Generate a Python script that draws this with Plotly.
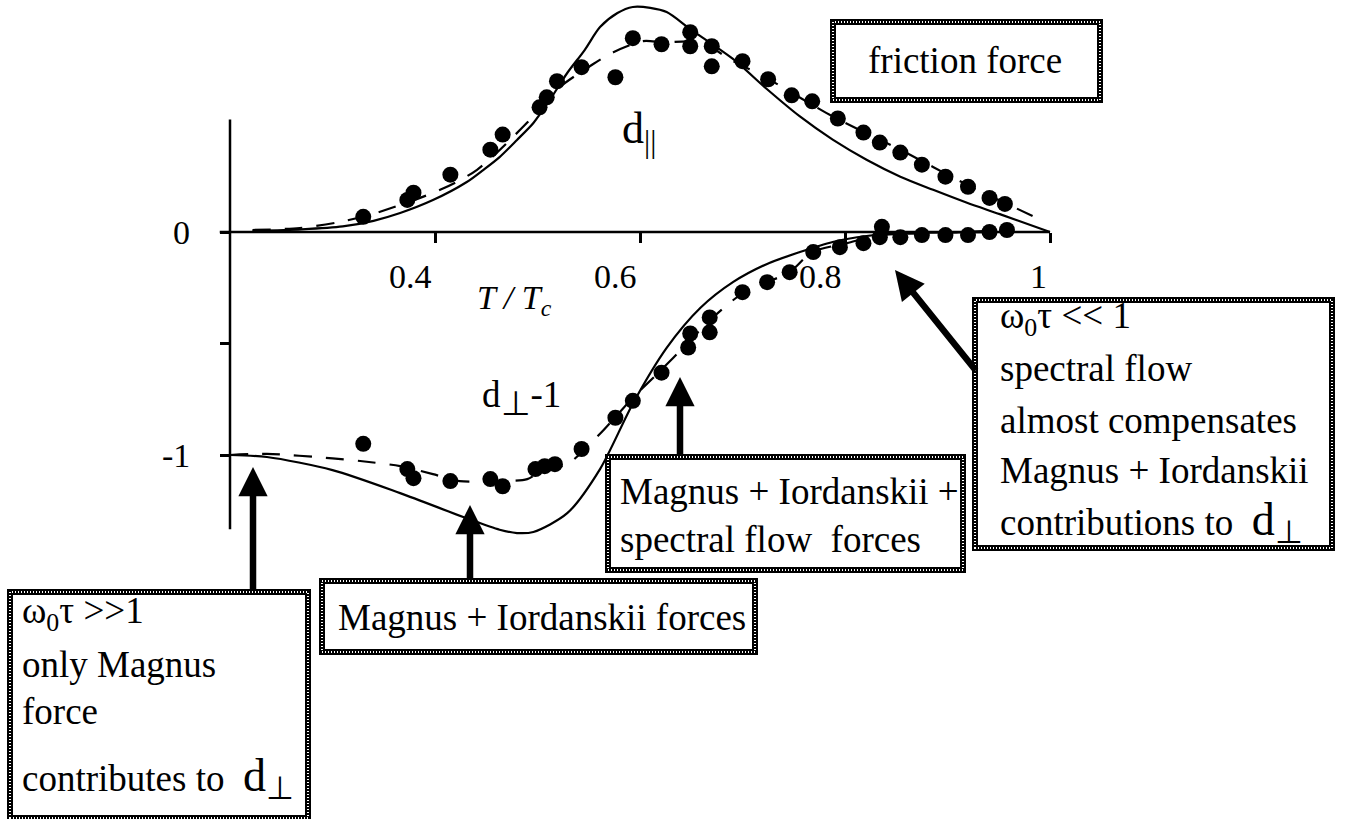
import plotly.graph_objects as go

W, H = 1349, 819

# ---- data ----
# experimental d_parallel
x_par = [0.330, 0.373, 0.379, 0.415, 0.454, 0.466, 0.502, 0.509, 0.519, 0.543,
         0.576, 0.593, 0.621, 0.649, 0.649, 0.670, 0.670, 0.700, 0.725, 0.748,
         0.768, 0.793, 0.818, 0.834, 0.854, 0.875, 0.898, 0.920, 0.941, 0.956]
y_par = [0.068, 0.144, 0.176, 0.257, 0.369, 0.437, 0.559, 0.604, 0.676, 0.739,
         0.694, 0.869, 0.842, 0.896, 0.833, 0.833, 0.743, 0.766, 0.685, 0.613,
         0.586, 0.509, 0.446, 0.401, 0.356, 0.302, 0.248, 0.203, 0.153, 0.126]

# experimental d_perp - 1
x_perp = [0.330, 0.373, 0.379, 0.415, 0.454, 0.466, 0.498, 0.507, 0.517, 0.543,
          0.576, 0.593, 0.621, 0.647, 0.649, 0.668, 0.668, 0.700, 0.724, 0.746,
          0.769, 0.795, 0.818, 0.834, 0.836, 0.854, 0.875, 0.898, 0.920, 0.941, 0.958]
y_perp = [-0.950, -1.063, -1.104, -1.117, -1.108, -1.140, -1.063, -1.050, -1.041, -0.973,
          -0.833, -0.757, -0.631, -0.518, -0.455, -0.450, -0.383, -0.270, -0.225, -0.180,
          -0.090, -0.068, -0.050, -0.023, 0.023, -0.023, -0.014, -0.014, -0.014, 0.000, 0.009]

# theory (solid) d_parallel
x_par_th = [0.222, 0.270, 0.310, 0.340, 0.366, 0.398, 0.431, 0.447, 0.463, 0.480,
            0.496, 0.512, 0.529, 0.546, 0.561, 0.578, 0.593, 0.610, 0.626, 0.649,
            0.691, 0.724, 0.756, 0.788, 0.821, 0.854, 0.886, 0.919, 0.951, 1.000]
y_par_th = [0.005, 0.012, 0.025, 0.050, 0.085, 0.143, 0.224, 0.278, 0.336, 0.413,
            0.489, 0.592, 0.713, 0.816, 0.919, 0.982, 1.009, 1.005, 0.986, 0.910,
            0.775, 0.640, 0.518, 0.414, 0.324, 0.248, 0.189, 0.131, 0.080, 0.000]

# fit (dashed) d_parallel
x_par_fit = [0.222, 0.268, 0.307, 0.343, 0.405, 0.441, 0.490, 0.519, 0.554, 0.574,
             0.603, 0.622, 0.659, 0.691, 0.724, 0.788, 0.854, 0.919, 0.983]
y_par_fit = [0.009, 0.018, 0.045, 0.086, 0.189, 0.279, 0.491, 0.640, 0.752, 0.806,
             0.856, 0.851, 0.850, 0.766, 0.689, 0.518, 0.369, 0.212, 0.072]

# theory (solid) d_perp - 1
x_perp_th = [0.200, 0.236, 0.300, 0.366, 0.431, 0.463, 0.480, 0.496, 0.529, 0.561,
             0.593, 0.626, 0.659, 0.691, 0.724, 0.756, 0.788, 0.821, 0.854, 0.951, 1.000]
y_perp_th = [-1.000, -1.009, -1.068, -1.171, -1.284, -1.335, -1.350, -1.345, -1.261, -1.063,
             -0.770, -0.520, -0.340, -0.224, -0.143, -0.090, -0.045, -0.018, -0.005, 0.000, 0.000]

# fit (dashed) d_perp - 1
x_perp_fit = [0.200, 0.236, 0.300, 0.327, 0.366, 0.398, 0.424, 0.458, 0.490, 0.504,
              0.529, 0.561, 0.593, 0.620, 0.646, 0.668, 0.700, 0.724, 0.746, 0.768,
              0.802, 0.834, 0.886, 0.958]
y_perp_fit = [-1.000, -0.995, -1.015, -1.027, -1.050, -1.086, -1.117, -1.117, -1.108, -1.070,
              -1.041, -0.905, -0.743, -0.622, -0.500, -0.396, -0.275, -0.225, -0.180, -0.090,
              -0.050, -0.014, -0.005, 0.009]

x_ticks = [0.4, 0.6, 0.8, 1.0]
x_tick_text = ["0.4", "0.6", "0.8", "1"]
y_ticks = [0, -0.5, -1]
y_tick_text = ["0", "", "-1"]

# ---- geometry ----
X0_PX, PX_PER_X = 230, 1025.0   # pixel of x=0.2, pixels per unit
Y0_PX, PX_PER_Y = 232, 223.0    # pixel of y=0, pixels per unit
x_range = [0.2 - X0_PX / PX_PER_X, 0.2 + (W - X0_PX) / PX_PER_X]
y_range = [-(H - Y0_PX) / PX_PER_Y, Y0_PX / PX_PER_Y]

def PX(px):
    return px / W

def PY(py):
    return 1 - py / H

FONT = "Liberation Serif"
BOX_FS = 37

fig = go.Figure()

fig.add_trace(go.Scatter(x=x_par_th, y=y_par_th, mode="lines",
                         line=dict(color="black", width=2.2, shape="spline", smoothing=0.8)))
fig.add_trace(go.Scatter(x=x_par_fit, y=y_par_fit, mode="lines",
                         line=dict(color="black", width=2.2, dash="18px,14px", shape="spline", smoothing=0.8)))
fig.add_trace(go.Scatter(x=x_perp_th, y=y_perp_th, mode="lines",
                         line=dict(color="black", width=2.2, shape="spline", smoothing=0.8)))
fig.add_trace(go.Scatter(x=x_perp_fit, y=y_perp_fit, mode="lines",
                         line=dict(color="black", width=2.2, dash="18px,14px", shape="spline", smoothing=0.8)))
fig.add_trace(go.Scatter(x=x_par, y=y_par, mode="markers",
                         marker=dict(color="black", size=16)))
fig.add_trace(go.Scatter(x=x_perp, y=y_perp, mode="markers",
                         marker=dict(color="black", size=16)))

shapes = []
# axis lines
shapes.append(dict(type="line", xref="x", yref="y", x0=0.19, y0=0, x1=1.0, y1=0,
                   line=dict(color="black", width=2.5)))
shapes.append(dict(type="line", xref="x", yref="y", x0=0.2, y0=0.505, x1=0.2, y1=-1.333,
                   line=dict(color="black", width=2.5)))

# boxes (pixel rectangles)
boxes = [(833, 22, 1100, 100), (10, 592, 308, 818), (322, 581, 755, 652),
         (608, 457, 963, 570), (975, 300, 1332, 548)]
for (l, t, r, b) in boxes:
    shapes.append(dict(type="rect", xref="paper", yref="paper",
                       x0=PX(l), y0=PY(b), x1=PX(r), y1=PY(t),
                       line=dict(color="black", width=6), fillcolor="white", layer="above"))
    shapes.append(dict(type="rect", xref="paper", yref="paper",
                       x0=PX(l), y0=PY(b), x1=PX(r), y1=PY(t),
                       line=dict(color="white", width=2, dash="1px,2px"), layer="above"))

ann = []

def txt(s, x, y, size=BOX_FS, xanchor="left", yanchor="middle"):
    ann.append(dict(text=s, x=PX(x), y=PY(y), xref="paper", yref="paper",
                    xanchor=xanchor, yanchor=yanchor, showarrow=False,
                    font=dict(family=FONT, size=size, color="black")))

# tick labels
for v, t in zip(x_ticks, x_tick_text):
    ann.append(dict(text=t, x=v, y=0, xref="x", yref="y", xanchor="right", yanchor="top",
                    xshift=-1, yshift=-24, showarrow=False,
                    font=dict(family=FONT, size=34, color="black")))
for v, t in zip(y_ticks, y_tick_text):
    if t:
        ann.append(dict(text=t, x=0.2, y=v, xref="x", yref="y", xanchor="right", yanchor="middle",
                        xshift=-38, showarrow=False,
                        font=dict(family=FONT, size=34, color="black")))

# axis title and curve labels
txt("<i>T / T<sub>c</sub></i>", 475, 300, size=34)
txt("d<sub>||</sub>", 620, 131, size=44)
txt("d<sub><span style='font-size:34px'>⊥</span></sub>-1", 480, 398, size=37)

big_d = "<span style='font-size:46px'>d</span><sub><span style='font-size:32px'>⊥</span></sub>"

# box texts
txt("friction force", 866, 61)
txt("ω<sub>0</sub>τ &gt;&gt;1", 20, 613)
txt("only Magnus", 20, 664)
txt("force", 20, 711)
txt("contributes to  " + big_d, 20, 778)
txt("Magnus + Iordanskii forces", 336, 617)
txt("Magnus + Iordanskii +", 618, 491)
txt("spectral flow  forces", 618, 539)
txt("ω<sub>0</sub>τ &lt;&lt; 1", 998, 319)
txt("spectral flow", 998, 369)
txt("almost compensates", 998, 421)
txt("Magnus + Iordanskii", 998, 471)
txt("contributions to  " + big_d, 998, 522)

# arrows (tip, tail) in pixels
arrows = [((253, 467), (253, 592)), ((470, 505), (470, 581)),
          ((680, 377), (680, 457)), ((895, 270), (977, 372))]
for (tx, ty), (sx, sy) in arrows:
    ann.append(dict(text="", x=PX(tx), y=PY(ty), xref="paper", yref="paper",
                    ax=sx - tx, ay=sy - ty, showarrow=True, arrowhead=2,
                    arrowwidth=6.5, arrowsize=0.9, arrowcolor="black", standoff=0))

fig.update_layout(
    width=W, height=H, autosize=False,
    margin=dict(l=0, r=0, t=0, b=0),
    paper_bgcolor="white", plot_bgcolor="white",
    showlegend=False,
    shapes=shapes, annotations=ann,
    xaxis=dict(range=x_range, domain=[0, 1], anchor="free", position=1 - Y0_PX / H,
               showgrid=False, zeroline=False, showline=False,
               ticks="outside", ticklen=10, tickwidth=2.5, tickcolor="black",
               tickvals=x_ticks, showticklabels=False, automargin=False, fixedrange=True),
    yaxis=dict(range=y_range, domain=[0, 1], anchor="free", position=X0_PX / W,
               showgrid=False, zeroline=False, showline=False,
               ticks="outside", ticklen=10, tickwidth=2.5, tickcolor="black",
               tickvals=y_ticks, showticklabels=False, automargin=False, fixedrange=True),
)

fig.write_html("out.html",
               config={"displayModeBar": False},
               post_script="document.body.style.margin='0';document.body.style.padding='0';"
                           "document.body.style.overflow='hidden';")
